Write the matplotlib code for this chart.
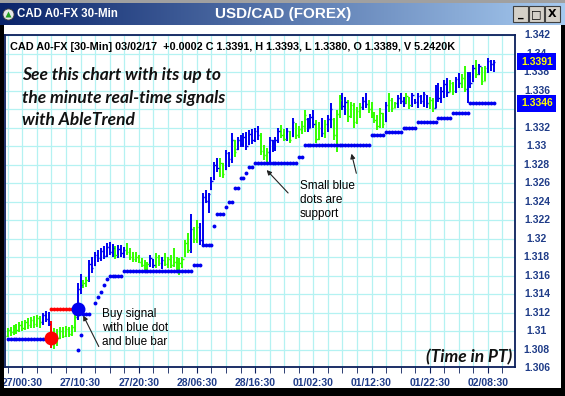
import numpy as np
import matplotlib.pyplot as plt
from matplotlib.patches import Rectangle
from matplotlib.transforms import blended_transform_factory

# USD/CAD 30-min bars, index 0 = 27/00:30 (first bar is 26/22:00)
first_bar = -5

lows = [1.3093, 1.3095, 1.3096, 1.3097, 1.3099, 1.3100, 1.3101, 1.3102, 1.3103, 1.3103, 1.3104, 1.3103, 1.3106, 1.3110, 1.3105,
        1.3082, 1.3081, 1.3084, 1.3091, 1.3092, 1.3093, 1.3093, 1.3095, 1.3099,
        1.3112, 1.3140, 1.3146, 1.3148, 1.3153, 1.3163, 1.3170, 1.3175, 1.3176, 1.3178,
        1.3180, 1.3182, 1.3180, 1.3178, 1.3179, 1.3180, 1.3179, 1.3182, 1.3177, 1.3175,
        1.3175, 1.3173, 1.3169, 1.3164, 1.3163, 1.3169, 1.3168, 1.3168, 1.3170, 1.3167,
        1.3170, 1.3168, 1.3168, 1.3169, 1.3163, 1.3161, 1.3168, 1.3180, 1.3184, 1.3184,
        1.3195, 1.3195, 1.3193, 1.3193, 1.3238, 1.3228, 1.3252, 1.3263, 1.3272, 1.3266,
        1.3265, 1.3274, 1.3277, 1.3282, 1.3288, 1.3296, 1.3299, 1.3299, 1.3296, 1.3301,
        1.3302, 1.3304, 1.3306, 1.3290, 1.3285, 1.3283, 1.3283, 1.3294, 1.3295, 1.3303,
        1.3309, 1.3305, 1.3305, 1.3303, 1.3310, 1.3308, 1.3309, 1.3313, 1.3315, 1.3315,
        1.3320, 1.3320, 1.3303, 1.3306, 1.3310, 1.3309, 1.3315, 1.3320, 1.3306, 1.3293,
        1.3330, 1.3339, 1.3334, 1.3326, 1.3330, 1.3320, 1.3324, 1.3330, 1.3339, 1.3341,
        1.3336, 1.3330, 1.3325, 1.3317, 1.3319, 1.3319, 1.3326, 1.3337, 1.3337, 1.3341,
        1.3341, 1.3345, 1.3342, 1.3345, 1.3340, 1.3342, 1.3345, 1.3341, 1.3345, 1.3342,
        1.3341, 1.3340, 1.3337, 1.3341, 1.3348, 1.3346, 1.3352, 1.3353, 1.3358, 1.3355,
        1.3357, 1.3363, 1.3363, 1.3358, 1.3346, 1.3363, 1.3369, 1.3373, 1.3377, 1.3366,
        1.3370, 1.3379, 1.3381, 1.3380]
highs = [1.3103, 1.3104, 1.3106, 1.3108, 1.3110, 1.3111, 1.3112, 1.3114, 1.3115, 1.3116, 1.3117, 1.3116, 1.3119, 1.3122, 1.3121,
         1.3111, 1.3103, 1.3102, 1.3104, 1.3104, 1.3105, 1.3104, 1.3106, 1.3117,
         1.3152, 1.3162, 1.3155, 1.3158, 1.3177, 1.3180, 1.3185, 1.3188, 1.3190, 1.3192,
         1.3195, 1.3196, 1.3194, 1.3192, 1.3193, 1.3193, 1.3191, 1.3195, 1.3190, 1.3185,
         1.3185, 1.3182, 1.3179, 1.3177, 1.3175, 1.3182, 1.3178, 1.3184, 1.3182, 1.3180,
         1.3184, 1.3180, 1.3182, 1.3190, 1.3180, 1.3179, 1.3180, 1.3198, 1.3206, 1.3227,
         1.3212, 1.3220, 1.3217, 1.3249, 1.3252, 1.3249, 1.3266, 1.3283, 1.3287, 1.3287,
         1.3282, 1.3296, 1.3294, 1.3314, 1.3306, 1.3310, 1.3312, 1.3314, 1.3315, 1.3317,
         1.3318, 1.3320, 1.3322, 1.3314, 1.3301, 1.3298, 1.3310, 1.3306, 1.3310, 1.3320,
         1.3323, 1.3318, 1.3319, 1.3316, 1.3330, 1.3325, 1.3322, 1.3327, 1.3339, 1.3330,
         1.3335, 1.3339, 1.3328, 1.3326, 1.3330, 1.3328, 1.3333, 1.3346, 1.3330, 1.3339,
         1.3355, 1.3357, 1.3353, 1.3350, 1.3348, 1.3346, 1.3342, 1.3346, 1.3353, 1.3357,
         1.3350, 1.3348, 1.3337, 1.3334, 1.3341, 1.3336, 1.3348, 1.3357, 1.3352, 1.3348,
         1.3355, 1.3357, 1.3353, 1.3357, 1.3353, 1.3357, 1.3351, 1.3357, 1.3355, 1.3358,
         1.3355, 1.3353, 1.3352, 1.3366, 1.3368, 1.3364, 1.3371, 1.3373, 1.3371, 1.3369,
         1.3375, 1.3379, 1.3378, 1.3386, 1.3380, 1.3380, 1.3388, 1.3393, 1.3389, 1.3385,
         1.3387, 1.3395, 1.3393, 1.3393]
opens = [1.3095, 1.3101, 1.3099, 1.3104, 1.3101, 1.3107, 1.3103, 1.3110, 1.3106, 1.3112, 1.3108, 1.3114, 1.3110, 1.3117, 1.3113,
         1.3108, 1.3088, 1.3097, 1.3092, 1.3100, 1.3095, 1.3102, 1.3097, 1.3104,
         1.3115, 1.3145, 1.3150, 1.3152, 1.3155, 1.3172, 1.3171, 1.3182, 1.3179, 1.3186,
         1.3181, 1.3191, 1.3185, 1.3190, 1.3182, 1.3189, 1.3184, 1.3188, 1.3185, 1.3180,
         1.3178, 1.3180, 1.3175, 1.3171, 1.3168, 1.3172, 1.3177, 1.3171, 1.3180, 1.3173,
         1.3177, 1.3172, 1.3178, 1.3171, 1.3175, 1.3168, 1.3174, 1.3181, 1.3195, 1.3188,
         1.3210, 1.3200, 1.3212, 1.3198, 1.3245, 1.3241, 1.3254, 1.3264, 1.3280, 1.3276,
         1.3282, 1.3275, 1.3292, 1.3286, 1.3306, 1.3297, 1.3306, 1.3302, 1.3310, 1.3302,
         1.3313, 1.3306, 1.3316, 1.3312, 1.3295, 1.3290, 1.3294, 1.3306, 1.3298, 1.3307,
         1.3316, 1.3312, 1.3308, 1.3316, 1.3311, 1.3324, 1.3312, 1.3318, 1.3322, 1.3329,
         1.3320, 1.3331, 1.3324, 1.3308, 1.3320, 1.3314, 1.3324, 1.3329, 1.3329, 1.3312,
         1.3335, 1.3350, 1.3343, 1.3348, 1.3332, 1.3344, 1.3326, 1.3338, 1.3342, 1.3349,
         1.3345, 1.3340, 1.3334, 1.3328, 1.3322, 1.3336, 1.3327, 1.3344, 1.3350, 1.3341,
         1.3346, 1.3352, 1.3349, 1.3346, 1.3352, 1.3344, 1.3350, 1.3348, 1.3354, 1.3349,
         1.3354, 1.3346, 1.3350, 1.3341, 1.3362, 1.3352, 1.3360, 1.3367, 1.3358, 1.3368,
         1.3360, 1.3372, 1.3368, 1.3374, 1.3362, 1.3376, 1.3370, 1.3384, 1.3378, 1.3384,
         1.3370, 1.3384, 1.3392, 1.3389]
closes = [1.3101, 1.3099, 1.3104, 1.3101, 1.3107, 1.3103, 1.3110, 1.3106, 1.3112, 1.3108, 1.3114, 1.3110, 1.3117, 1.3113, 1.3108,
          1.3088, 1.3097, 1.3092, 1.3100, 1.3095, 1.3102, 1.3097, 1.3104, 1.3115,
          1.3145, 1.3150, 1.3152, 1.3155, 1.3172, 1.3168, 1.3182, 1.3179, 1.3186, 1.3181,
          1.3191, 1.3185, 1.3190, 1.3182, 1.3189, 1.3184, 1.3188, 1.3185, 1.3180, 1.3178,
          1.3180, 1.3175, 1.3171, 1.3168, 1.3172, 1.3179, 1.3171, 1.3180, 1.3173, 1.3177,
          1.3172, 1.3178, 1.3171, 1.3175, 1.3168, 1.3174, 1.3178, 1.3195, 1.3188, 1.3210,
          1.3200, 1.3212, 1.3198, 1.3245, 1.3241, 1.3248, 1.3262, 1.3280, 1.3276, 1.3282,
          1.3270, 1.3292, 1.3286, 1.3306, 1.3293, 1.3306, 1.3302, 1.3310, 1.3300, 1.3313,
          1.3306, 1.3316, 1.3312, 1.3295, 1.3290, 1.3294, 1.3306, 1.3298, 1.3307, 1.3316,
          1.3312, 1.3308, 1.3316, 1.3307, 1.3326, 1.3312, 1.3318, 1.3322, 1.3334, 1.3320,
          1.3331, 1.3324, 1.3308, 1.3320, 1.3314, 1.3324, 1.3329, 1.3340, 1.3312, 1.3335,
          1.3350, 1.3343, 1.3348, 1.3332, 1.3344, 1.3326, 1.3338, 1.3342, 1.3349, 1.3345,
          1.3340, 1.3334, 1.3328, 1.3322, 1.3336, 1.3324, 1.3344, 1.3350, 1.3341, 1.3346,
          1.3352, 1.3349, 1.3346, 1.3354, 1.3344, 1.3355, 1.3348, 1.3354, 1.3349, 1.3356,
          1.3346, 1.3350, 1.3341, 1.3362, 1.3352, 1.3360, 1.3367, 1.3358, 1.3368, 1.3360,
          1.3372, 1.3368, 1.3374, 1.3362, 1.3376, 1.3368, 1.3384, 1.3378, 1.3386, 1.3370,
          1.3384, 1.3392, 1.3389, 1.3391]
# AbleTrend colour per bar: B = up trend, G = neutral, R = down trend
bar_colors = list("GGGGGGGGGGGG" "BBB" "R" "GGGGGGGG" "BB" "GG" "BBBBBBBBB" "G" "BBB"
                  "GGGGGGGG" "BB" "GG" "B" "GGGGGGGGG" "B" "GG" "BBBBBBB" "GG" "BBB" "G"
                  "BBBBBBBB" "GGG" "BBBB" "GG" "B" "G" "B" "GGGG" "BBB" "GG" "B" "G" "BB"
                  "GGG" "BB" "GGGGG" "BB" "GGGGGG" "B" "GGG" "BBB" "GG" "BBBBBB" "GG"
                  "BBBBB" "GG" "BB" "GG" "BBB" "G" "B" "GG" "BBB")

# support dots (small blue), as runs: first bar, last bar, level
support_first = [-5, 19, 20, 21, 25, 26, 27, 28, 29, 30, 35, 59, 62, 66, 67, 70, 71, 73, 75, 77,
                 78, 80, 95, 97, 120, 125, 131, 136, 143, 148, 154]
support_last = [9, 19, 20, 23, 25, 26, 27, 28, 29, 34, 58, 61, 65, 66, 69, 70, 72, 74, 76, 77,
                79, 94, 96, 119, 124, 130, 135, 142, 147, 153, 162]
support_level = [1.3091, 1.3079, 1.3096, 1.3118, 1.3130, 1.3137, 1.3142, 1.3150, 1.3156, 1.3160,
                 1.3165, 1.3171, 1.3193, 1.3213, 1.3227, 1.3234, 1.3240, 1.3255, 1.3265, 1.3271,
                 1.3277, 1.3282, 1.3288, 1.3301, 1.3312, 1.3315, 1.3319, 1.3326, 1.3330, 1.3336, 1.3346]
# red resistance dots during the short down leg
resist_first, resist_last, resist_level = 10, 17, 1.3124
sell_bar, sell_price = 10, 1.3092
buy_bar, buy_price = 19, 1.3124

last_close = 1.3391
last_support = 1.3346

y_ticks = [1.342, 1.340, 1.338, 1.336, 1.334, 1.332, 1.330, 1.328, 1.326, 1.324,
           1.322, 1.320, 1.318, 1.316, 1.314, 1.312, 1.310, 1.308, 1.306]
x_tick_bars = [0, 20, 40, 60, 80, 100, 120, 140, 160]
x_tick_labels = ['27/00:30', '27/10:30', '27/20:30', '28/06:30', '28/16:30',
                 '01/02:30', '01/12:30', '01/22:30', '02/08:30']

BLUE = '#0000f0'
GREEN = '#33ff00'
RED = '#ff0000'
NAVY = '#1f3c88'
GRID = '#b4f2f2'
color_map = {'B': BLUE, 'G': GREEN, 'R': RED}

W, H = 565, 396
fig = plt.figure(figsize=(W / 100, H / 100), dpi=100)
fig.patch.set_facecolor('white')
font = 'Liberation Sans'

# window title bar with gradient
tb = fig.add_axes([0, 1 - 25 / H, 1, 22 / H])
grad = np.linspace(0, 1, 256)
c0 = np.array([10, 36, 106]) / 255
c1 = np.array([166, 202, 240]) / 255
tb.imshow((c0[None, :] * (1 - grad[:, None]) + c1[None, :] * grad[:, None])[None, :, :],
          aspect='auto', extent=[0, 1, 0, 1])
tb.set_xlim(0, 1)
tb.set_ylim(0, 1)
tb.axis('off')
tb.text(283 / W, 0.5, 'USD/CAD (FOREX)', color='white', fontsize=11, fontweight='bold',
        family=font, ha='center', va='center')
tb.text(17 / W, 0.5, 'CAD A0-FX 30-Min', color='white', fontsize=8.3, fontweight='bold',
        family=font, ha='left', va='center')
tb.plot([8 / W], [0.5], 'o', ms=8, color='#e8e8e8', mec='#404040', mew=0.6)
tb.plot([8 / W], [0.5], '^', ms=4, color='#20a020', mec='none')
for bx, glyph in zip([513, 529, 545], ['_', '□', 'X']):
    tb.add_patch(Rectangle((bx / W, 0.12), 15 / W, 0.76, facecolor='#d4d0c8',
                           edgecolor='#404040', lw=0.8))
    tb.text((bx + 7.5) / W, 0.48, glyph, fontsize=8, fontweight='bold', family='DejaVu Sans',
            ha='center', va='center', color='black')

# window border
fig.patches.append(Rectangle((0, 1 - 3 / H), 1, 3 / H, transform=fig.transFigure,
                             facecolor='#a0a0a0', edgecolor='none'))
fig.patches.append(Rectangle((0, 0), 4 / W, 1 - 25 / H, transform=fig.transFigure,
                             facecolor='black', edgecolor='none'))
fig.patches.append(Rectangle((1 - 4 / W, 0), 4 / W, 1 - 25 / H, transform=fig.transFigure,
                             facecolor='black', edgecolor='none'))
fig.patches.append(Rectangle((0, 0), 1, 8 / H, transform=fig.transFigure,
                             facecolor='black', edgecolor='none'))

ax = fig.add_axes([5 / W, (H - 367) / H, 510 / W, 332 / H])
ax.set_xlim(-5.95, 169.3)
ax.set_ylim(1.30611, 1.342)

for v in y_ticks:
    ax.axhline(v, color=GRID, lw=0.9, zorder=0)
for k in range(-5, 170, 5):
    ax.axvline(k, color=GRID, lw=0.9, zorder=0)

x = np.arange(first_bar, first_bar + len(lows))
cols = [color_map[c] for c in bar_colors]
ax.vlines(x, lows, highs, colors=cols, lw=1.4, zorder=3)
ax.hlines(opens, x - 0.45, x, colors=cols, lw=1.0, zorder=3)
ax.hlines(closes, x, x + 0.45, colors=cols, lw=1.0, zorder=3)

for f, l, lvl in zip(support_first, support_last, support_level):
    ks = np.arange(f, l + 1)
    ax.plot(ks, [lvl] * len(ks), 'o', ms=2.8, color=BLUE, mec='none', zorder=4)
rk = np.arange(resist_first, resist_last + 1)
ax.plot(rk, [resist_level] * len(rk), 'o', ms=2.8, color=RED, mec='none', zorder=4)
ax.plot([sell_bar], [sell_price], 'o', ms=10, color=RED, mec='none', zorder=5)
ax.plot([buy_bar], [buy_price], 'o', ms=10, color=BLUE, mec='none', zorder=5)

for s in ax.spines.values():
    s.set_color('#0b1f5c')
    s.set_linewidth(1.3)
ax.set_yticks([])
ax.set_xticks(x_tick_bars)
ax.set_xticklabels(x_tick_labels, fontsize=7.5, fontweight='bold', color=NAVY, family=font)
ax.set_xticks(range(-5, 170, 5), minor=True)
ax.tick_params(axis='x', which='both', direction='out', length=4, color='#0b1f5c', pad=4)

ytr = blended_transform_factory(ax.transAxes, ax.transData)
for v in y_ticks:
    ax.text(1.043, v, f'{v:g}', transform=ytr, fontsize=7.5, fontweight='bold', color=NAVY,
            family=font, ha='center', va='center', clip_on=False)
for v in [last_close, last_support]:
    ax.text(1.043, v, f'{v:.4f}', transform=ytr, fontsize=7.5, fontweight='bold', color='#ffff00',
            family=font, ha='center', va='center', clip_on=False, zorder=10,
            bbox=dict(boxstyle='square,pad=0.35', fc='#0000ff', ec='none'))

fig.text(10 / W, 1 - 47 / H, 'CAD A0-FX [30-Min] 03/02/17  +0.0002 C 1.3391, H 1.3393, L 1.3380, O 1.3389, V 5.2420K',
         fontsize=7.8, fontweight='bold', family=font, ha='left', va='center', color='black')

for i, line in enumerate(['See this chart with its up to', 'the minute real-time signals', 'with AbleTrend']):
    fig.text(22 / W, 1 - (75 + 22.5 * i) / H, line, fontsize=12.5, fontweight='bold', style='italic',
             family='Lato', ha='left', va='center', color='#111111')
fig.text(512 / W, 1 - 357 / H, '(Time in PT)', fontsize=12.5, fontweight='bold', style='italic',
         family='Lato', ha='right', va='center', color='#111111')

fig.text(300 / W, 1 - 200 / H, 'Small blue\ndots are\nsupport', fontsize=8.5, family=font,
         ha='left', va='center', linespacing=1.2)
fig.text(102 / W, 1 - 328 / H, 'Buy signal\nwith blue dot\nand blue bar', fontsize=8.5, family=font,
         ha='left', va='center', linespacing=1.2)

arrow = dict(arrowstyle='-|>', color='#222222', lw=0.8, mutation_scale=7)
ax.annotate('', xy=(20.5, 1.31195), xytext=(100, H - 349), xycoords='data',
            textcoords='figure pixels', arrowprops=arrow)
ax.annotate('', xy=(83.3, 1.32762), xytext=(290, H - 195), xycoords='data',
            textcoords='figure pixels', arrowprops=arrow)
ax.annotate('', xy=(112.9, 1.32946), xytext=(357, H - 176), xycoords='data',
            textcoords='figure pixels', arrowprops=arrow)

fig.savefig('out.png', dpi=100, facecolor='white')
